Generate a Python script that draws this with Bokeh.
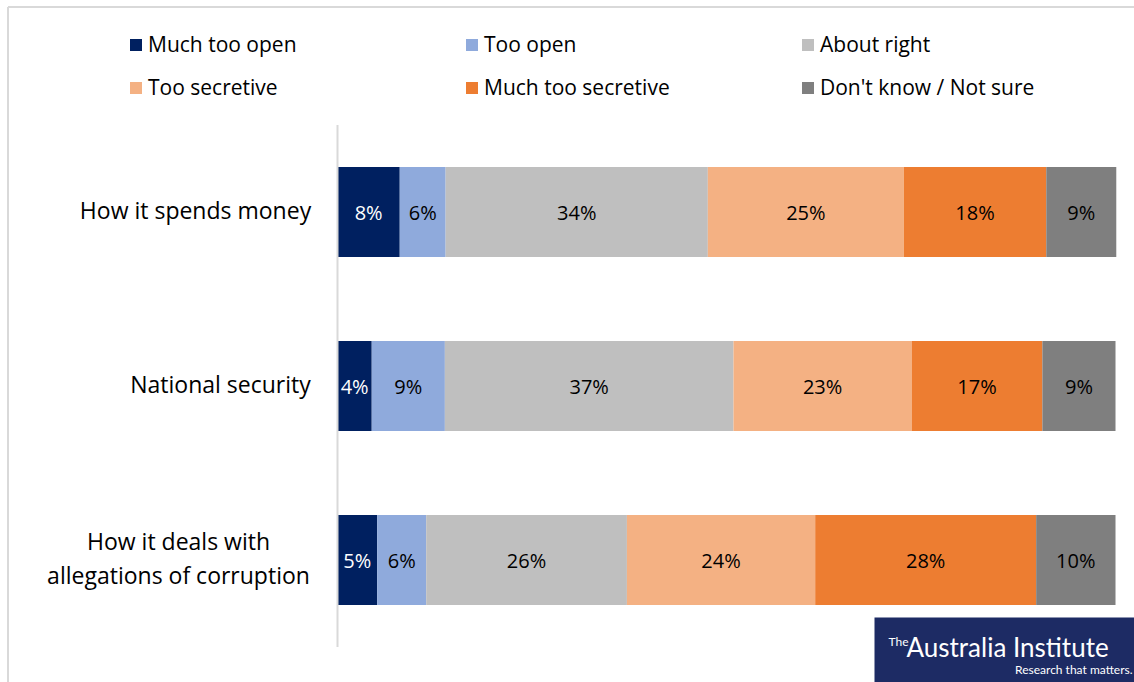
from bokeh.plotting import figure
from bokeh.models import ColumnDataSource, Range1d
from bokeh.core.properties import value
from bokeh.embed import file_html
from bokeh.resources import INLINE

# ---------------- data ----------------
categories = ["How it spends money", "National security",
              "How it deals with\nallegations of corruption"]
series = ["Much too open", "Too open", "About right",
          "Too secretive", "Much too secretive", "Don't know / Not sure"]
much_too_open = [8.0, 4.4, 5.1]
too_open = [5.9, 9.4, 6.3]
about_right = [33.7, 37.1, 25.8]
too_secretive = [25.2, 22.9, 24.2]
much_too_secretive = [18.3, 16.8, 28.4]
dont_know = [9.0, 9.4, 10.2]

# ---------------- style ----------------
colors = ["#002060", "#8faadc", "#bfbfbf", "#f4b183", "#ed7d31", "#7f7f7f"]
label_colors = ["#ffffff", "#000000", "#000000", "#000000", "#000000", "#000000"]
FONT = "Open Sans"

W, H = 1134, 682
X0, X100 = 337, 1115          # pixel positions of 0% and 100%
SX = (X100 - X0) / 100.0
ROW0, PITCH = 211.5, 174.0    # pixel centre of first row, row pitch


def dx(px):
    return (px - X0) / SX


def dy(py):
    return (ROW0 - py) / PITCH


values = [much_too_open, too_open, about_right, too_secretive, much_too_secretive, dont_know]
n = len(categories)
ys = [-i for i in range(n)]

src = {"y": ys}
for s, v in zip(series, values):
    src[s] = v
source = ColumnDataSource(src)

p = figure(width=W, height=H, x_range=Range1d(dx(0), dx(W)),
           y_range=Range1d(dy(H), dy(0)), x_axis_type=None, y_axis_type=None,
           output_backend="svg", toolbar_location=None, min_border=0)
p.outline_line_color = None
p.background_fill_color = "white"

# chart-area border (left and top only)
p.segment(x0=[dx(7.5), dx(7.5)], y0=[dy(6.5), dy(6.5)], x1=[dx(7.5), dx(W)],
          y1=[dy(H), dy(6.5)], line_color="#d9d9d9", line_width=2)

p.hbar_stack(series, y="y", height=90 / PITCH, color=colors, source=source,
             legend_label=series, line_color=None)

# axis line
p.segment(x0=[0], y0=[0.5], x1=[0], y1=[-(n - 1) - 0.5], line_color="#d9d9d9", line_width=2)

# value labels
lx, ly, lt, lc = [], [], [], []
for i in range(n):
    left = 0.0
    for j, v in enumerate(values):
        val = v[i]
        lx.append(left + val / 2)
        ly.append(ys[i])
        lt.append(f"{round(val)}%")
        lc.append(label_colors[j])
        left += val
p.text(x="x", y="y", text="t", text_color="c",
       source=ColumnDataSource(dict(x=lx, y=ly, t=lt, c=lc)),
       text_align="center", text_baseline="middle",
       text_font=value(FONT), text_font_size="20px")

# category labels (centre of each label block, in px)
cat_centres = [195, 220, 178]
p.text(x=[dx(c) for c in cat_centres], y=[y + 2 / PITCH for y in ys], text=categories,
       text_align="center", text_baseline="middle", text_font=value(FONT),
       text_font_size="23px", text_color="#000000", text_line_height=1.05)

# legend
lg = p.legend[0]
lg.orientation = "horizontal"
lg.ncols = 3
lg.location = (128, H - 22.5 - 86)
lg.glyph_width = 15
lg.glyph_height = 15
lg.label_standoff = 5
lg.label_width = 316
lg.label_height = 43
lg.spacing = 0
lg.padding = 0
lg.margin = 0
lg.border_line_color = None
lg.background_fill_alpha = 0
lg.label_text_font = FONT
lg.label_text_font_size = "21px"
lg.label_text_color = "#000000"

# logo box
p.quad(left=[dx(874)], right=[dx(W)], top=[dy(617)], bottom=[dy(H)],
       fill_color="#1d2b64", line_color=None)
p.text(x=[dx(888)], y=[dy(641)], text=["The"], text_color="white",
       text_font=value("Lato"), text_font_size="12px", text_baseline="middle")
p.text(x=[dx(906)], y=[dy(646)], text=["Australia Institute"], text_color="white",
       text_font=value("Lato"), text_font_size="26px", text_baseline="middle")
p.text(x=[dx(1132)], y=[dy(669)], text=["Research that matters."], text_color="white",
       text_font=value("Lato"), text_font_size="12px", text_baseline="middle",
       text_align="right")

open("out.html", "w").write(file_html(p, INLINE))
